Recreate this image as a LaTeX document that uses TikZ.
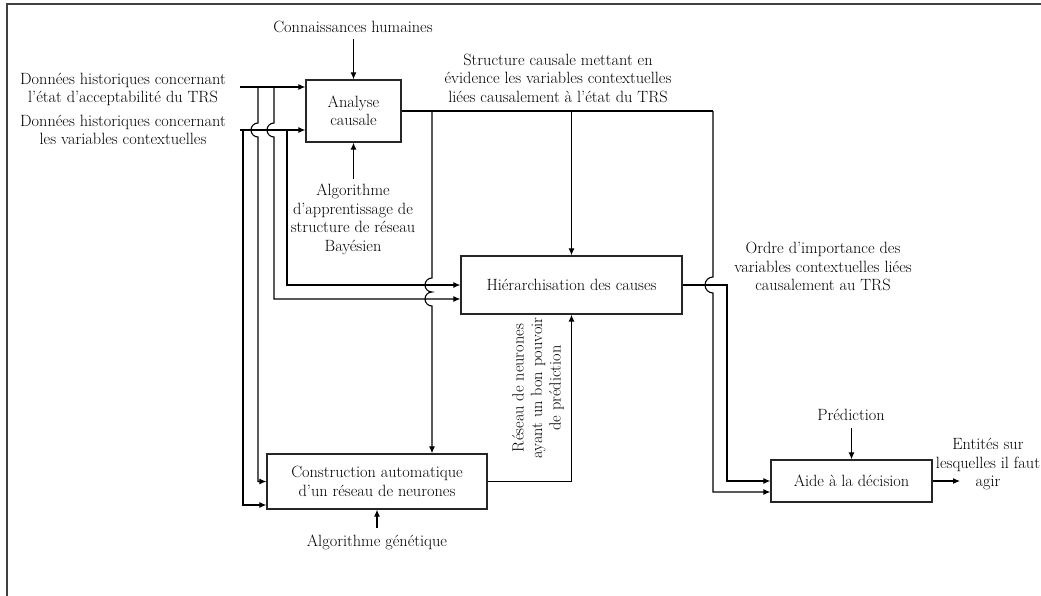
\documentclass[tikz,border=0pt]{standalone}
\usepackage{fontspec}
\usetikzlibrary{arrows.meta,calc}
\begin{document}
\begin{tikzpicture}[x=1pt,y=-1pt,
  every node/.style={font=\fontsize{16.3}{18.5}\selectfont, align=center, inner sep=0pt},
  box/.style={draw=black!85, line width=1.3pt, inner sep=2pt},
  conn/.style={line width=1.1pt, draw=black},
  arr/.style={conn, -{Latex[length=7pt,width=6pt]}},
  frame/.style={line width=1.5pt, draw=black!75}]
\useasboundingbox (0,0) rectangle (1041,596);
\draw[frame] (7,596) -- (7,4) -- (1041,4);

% boxes
\node[box, minimum width=95, minimum height=62] (AC) at (353.5,111) {Analyse\\causale};
\node[box, minimum width=221, minimum height=58] (HC) at (571.5,285) {Hiérarchisation des causes};
\node[box, minimum width=220, minimum height=55] (CA) at (377,481.5) {Construction automatique\\d’un réseau de neurones};
\node[box, minimum width=161, minimum height=42] (AD) at (851.5,481) {Aide à la décision};

% labels
\node (L1) at (123,89.5) {Données historiques concernant\\l’état d’acceptabilité du TRS};
\node (L2) at (123,130) {Données historiques concernant\\les variables contextuelles};
\node (KH) at (353,27) {Connaissances humaines};
\node[anchor=north] (ALG) at (353,184) {Algorithme\\d’apprentissage de\\structure de réseau\\Bayésien};
\node (SC) at (558,78) {Structure causale mettant en\\évidence les variables contextuelles\\liées causalement à l’état du TRS};
\node (OI) at (823,266.5) {Ordre d’importance des\\variables contextuelles liées\\causalement au TRS};
\node[rotate=90] (RN) at (538,388) {Réseau de neurones\\ayant un bon pouvoir\\de prédiction};
\node (AGN) at (377,542) {Algorithme génétique};
\node (PR) at (851,415) {Prédiction};
\node (ENT) at (988,464) {Entités sur\\lesquelles il faut\\agir};

% coordinates
\coordinate (in1) at (240,87);
\coordinate (in2) at (240,130);
\coordinate (a1) at (258,87);
\coordinate (a2) at (274,87);
\coordinate (a3) at (287,130);
\coordinate (a4) at (243,130);
\coordinate (b1) at (432,111);
\coordinate (b2) at (571.5,111);
\coordinate (b3) at (713,111);
\coordinate (c1) at (727,285);
\coordinate (out) at (960,481);

% inputs to Analyse causale
\draw[arr] (in1) -- (in1 -| AC.west);
\draw[arr] (in2) -- (in2 -| AC.west);
\draw[arr] ($(AC.north)+(0,-40)$) -- (AC.north);
\draw[arr] ($(AC.south)+(0,36)$) -- (AC.south);

% branches from the data inputs
\draw[arr] (a1) -- (258,123) arc[start angle=90, end angle=270, radius=7pt] -- (258,137) |- (CA.west);
\draw[arr] (a2) -- (274,123) arc[start angle=90, end angle=270, radius=7pt] -- (274,137) |- ($(HC.west)+(0,14)$);
\draw[arr] (a3) |- (HC.west);
\draw[arr] (a4) |- ($(CA.west)+(0,23.5)$);

% output of Analyse causale
\draw[conn] (AC.east) -- (b3);
\draw[arr] (b1) -- (432,278) arc[start angle=90, end angle=270, radius=7pt]
  arc[start angle=90, end angle=270, radius=7pt] -- (b1 |- CA.north);
\draw[arr] (b2) -- (HC.north);
\draw[arr] (b3) -- (713,277) arc[start angle=90, end angle=270, radius=8pt] -- (713,293) |- ($(AD.west)+(0,11)$);

% output of Hierarchisation
\draw[arr] (HC.east) -- (c1) |- (AD.west);

% Construction -> Hierarchisation
\draw[arr] (CA.east) -| (HC.south);
\draw[arr] ($(CA.south)+(0,18)$) -- (CA.south);

% Aide a la decision
\draw[arr] ($(AD.north)+(0,-31)$) -- (AD.north);
\draw[arr] (AD.east) -- (out);
\end{tikzpicture}
\end{document}
